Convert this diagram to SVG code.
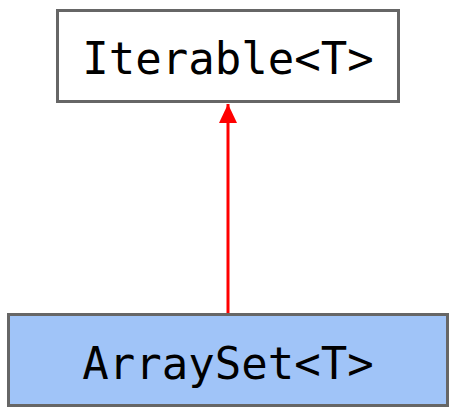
<svg xmlns="http://www.w3.org/2000/svg" width="458" height="418" viewBox="0 0 458 418">
  <style>
    .box { stroke: #666666; stroke-width: 3; }
    .label { font-family: "DejaVu Sans Mono", "Liberation Mono", monospace; font-size: 44px; fill: #000000; text-anchor: middle; }
    .edge { stroke: #ff0000; stroke-width: 3; fill: none; }
  </style>
  <defs>
    <marker id="arrowhead" markerUnits="userSpaceOnUse" markerWidth="20" markerHeight="26" refX="19" refY="9" orient="auto">
      <path d="M0,0 L19,9 L0,18 Z" fill="#ff0000"/>
    </marker>
  </defs>
  <rect width="458" height="418" fill="#ffffff"/>
  <g id="connectors">
    <line class="edge" x1="228" y1="313" x2="228" y2="104" marker-end="url(#arrowhead)"/>
  </g>
  <g id="iterable">
    <rect class="box" x="57.5" y="10.5" width="341" height="91" fill="#ffffff"/>
    <text class="label" x="228" y="74">Iterable&lt;T&gt;</text>
  </g>
  <g id="arrayset">
    <rect class="box" x="8.5" y="314.5" width="439" height="91" fill="#a0c4f8"/>
    <text class="label" x="228" y="379">ArraySet&lt;T&gt;</text>
  </g>
</svg>
